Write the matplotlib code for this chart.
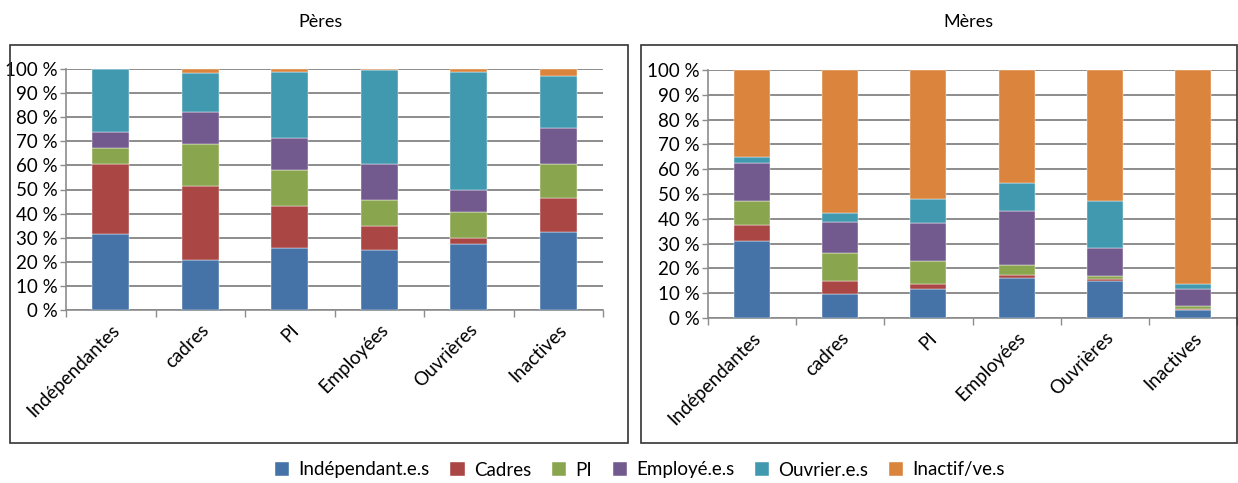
import numpy as np
import matplotlib
matplotlib.use("Agg")
import matplotlib.pyplot as plt
from matplotlib.patches import Rectangle

# categories (x axis) and legend series
categories = ["Indépendantes", "cadres", "PI", "Employées", "Ouvrières", "Inactives"]
series = ["Indépendant.e.s", "Cadres", "PI", "Employé.e.s", "Ouvrier.e.s", "Inactif/ve.s"]
colors = ["#4572A7", "#AA4643", "#89A54E", "#735A8E", "#4199B0", "#DB843D"]

# shares (%) per series, one value per category
peres_indep = [31.5, 20.7, 25.7, 24.9, 27.4, 32.4]
peres_cadres = [29.0, 30.9, 17.6, 10.0, 2.5, 14.1]
peres_pi = [6.8, 17.4, 14.9, 10.7, 10.8, 14.1]
peres_employes = [6.6, 13.3, 13.3, 15.0, 9.1, 15.1]
peres_ouvriers = [26.1, 15.9, 27.4, 39.1, 49.1, 21.5]
peres_inactifs = [0.0, 1.8, 1.1, 0.5, 1.1, 2.8]

meres_indep = [30.9, 9.7, 11.5, 16.3, 14.8, 3.4]
meres_cadres = [6.4, 5.1, 2.4, 0.9, 0.8, 0.2]
meres_pi = [9.7, 11.3, 8.9, 4.0, 1.5, 1.4]
meres_employes = [15.5, 12.8, 15.5, 21.8, 11.3, 6.5]
meres_ouvriers = [2.5, 3.4, 9.5, 11.4, 18.6, 2.4]
meres_inactifs = [35.0, 57.7, 52.2, 45.6, 53.0, 86.1]

peres = [peres_indep, peres_cadres, peres_pi, peres_employes, peres_ouvriers, peres_inactifs]
meres = [meres_indep, meres_cadres, meres_pi, meres_employes, meres_ouvriers, meres_inactifs]

plt.rcParams["font.family"] = ["Lato", "DejaVu Sans"]

fig = plt.figure(figsize=(12.38, 4.83), dpi=100)

# panel frames
fig.patches.append(Rectangle((10 / 1238, 1 - 443 / 483), 618 / 1238, 398 / 483,
                             transform=fig.transFigure, fill=False,
                             edgecolor="#333333", linewidth=1.2))
fig.patches.append(Rectangle((641 / 1238, 1 - 443 / 483), 596 / 1238, 398 / 483,
                             transform=fig.transFigure, fill=False,
                             edgecolor="#333333", linewidth=1.2))

ax1 = fig.add_axes([66 / 1238, 1 - 310 / 483, 537 / 1238, 241 / 483])
ax2 = fig.add_axes([708 / 1238, 1 - 318 / 483, 529 / 1238, 248 / 483])

x = np.arange(len(categories))
for ax, data in [(ax1, peres), (ax2, meres)]:
    bottom = np.zeros(len(categories))
    for vals, name, col in zip(data, series, colors):
        ax.bar(x, vals, width=0.41, bottom=bottom, color=col, label=name,
               edgecolor="white", linewidth=0.3, zorder=3)
        bottom += np.array(vals)
    ax.set_xlim(-0.5, len(categories) - 0.5)
    ax.set_ylim(0, 100)
    ax.set_yticks(np.arange(0, 101, 10))
    ax.set_yticklabels([f"{v} %" for v in range(0, 101, 10)], fontsize=13.5)
    ax.yaxis.grid(True, color="#8c8c8c", linewidth=1.4, zorder=0)
    ax.set_axisbelow(True)
    ax.set_xticks(x)
    ax.set_xticklabels(categories, rotation=45, ha="right", va="top",
                       rotation_mode="anchor", fontsize=13.5)
    ax.set_xticks(np.arange(-0.5, len(categories)), minor=True)
    ax.tick_params(axis="x", which="major", length=0, pad=8)
    ax.tick_params(axis="x", which="minor", length=5, color="#8c8c8c", width=1)
    ax.tick_params(axis="y", length=4, color="#8c8c8c", width=1, pad=2)
    for side in ["top", "right"]:
        ax.spines[side].set_visible(False)
    for side in ["left", "bottom"]:
        ax.spines[side].set_color("#8c8c8c")
        ax.spines[side].set_linewidth(1.2)

fig.text(320 / 1238, 1 - 22 / 483, "Pères", ha="center", va="center", fontsize=13)
fig.text(968 / 1238, 1 - 22 / 483, "Mères", ha="center", va="center", fontsize=13)

handles, labels = ax1.get_legend_handles_labels()
fig.legend(handles, labels, loc="center", bbox_to_anchor=(640 / 1238, 1 - 470 / 483),
           ncol=6, frameon=False, fontsize=13.5, handlelength=0.75, handleheight=0.75,
           handletextpad=0.5, columnspacing=1.1)

fig.savefig("out.png", dpi=100)
